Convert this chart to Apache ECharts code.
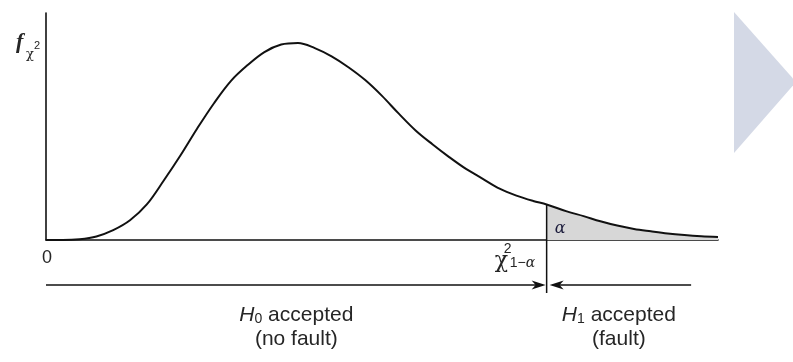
<!DOCTYPE html>
<html>
<head>
<meta charset="utf-8">
<script src="https://cdn.jsdelivr.net/npm/echarts@6/dist/echarts.min.js"></script>
<style>
  html, body { margin: 0; padding: 0; background: #ffffff; }
  #chart { width: 793px; height: 362px; }
</style>
</head>
<body>
<div id="chart"></div>
<script>
// Chi-square test statistic density (x = statistic, y = density)
const chiX = [0, 0.5, 1, 1.5, 2, 2.5, 3, 3.5, 4, 4.5, 5, 5.5, 6, 6.5, 7, 7.5, 8, 8.5, 9, 9.5,
              10, 10.5, 11, 11.5, 12, 12.5, 13, 13.5, 14, 14.5, 14.9, 15.5, 16, 16.5, 17, 17.5,
              18, 18.5, 19, 19.5, 20];
const density = [0, 0, 0.0004, 0.0018, 0.005, 0.010, 0.018, 0.030, 0.0428, 0.0565, 0.0693,
                 0.0805, 0.0886, 0.0952, 0.099, 0.0998, 0.0972, 0.093, 0.0875, 0.081,
                 0.073, 0.064, 0.0555, 0.0485, 0.042, 0.036, 0.031, 0.026, 0.0225, 0.0198,
                 0.018, 0.0145, 0.0121, 0.0095, 0.0073, 0.0056, 0.0044, 0.0033, 0.0025,
                 0.0019, 0.0015];

// Decision threshold and the extent of the two decision regions
const criticalValue = 14.9;
const regionStart = 0;
const faultRegionEnd = 19.2;

const axisMin = 0, axisMax = 20;
const densityMax = 0.115;

const curve = chiX.map((x, i) => [x, density[i]]);
const tail = curve.filter(p => p[0] >= criticalValue);
const criticalDensity = density[chiX.indexOf(criticalValue)];

const textColor = '#262626';
const baseFont = '"Liberation Sans", Arial, sans-serif';
const mathFont = '"DejaVu Serif", "Liberation Serif", serif';

const chart = echarts.init(document.getElementById('chart'), null, { renderer: 'canvas' });

chart.setOption({
  animation: false,
  backgroundColor: '#ffffff',
  grid: { left: 46, top: 13, width: 672, height: 227, containLabel: false },
  xAxis: {
    type: 'value', min: axisMin, max: axisMax,
    axisLine: { show: true, lineStyle: { color: '#111', width: 1.6 } },
    axisTick: { show: false }, axisLabel: { show: false }, splitLine: { show: false }
  },
  yAxis: {
    type: 'value', min: 0, max: densityMax,
    axisLine: { show: true, lineStyle: { color: '#111', width: 1.6 } },
    axisTick: { show: false }, axisLabel: { show: false }, splitLine: { show: false }
  },
  series: [
    {
      type: 'line', data: tail, smooth: 0.35,
      showSymbol: false, z: 1,
      lineStyle: { width: 0 },
      areaStyle: { color: '#d7d7d7', opacity: 1 }
    },
    {
      type: 'line', data: curve, smooth: 0.35,
      showSymbol: false, z: 3,
      lineStyle: { color: '#111', width: 2 }
    }
  ]
});

// Annotations placed through the chart's own coordinate conversion
const px = v => chart.convertToPixel({ gridIndex: 0 }, v);
const x0 = px([regionStart, 0])[0];
const axisY = px([0, 0])[1];
const critTop = px([criticalValue, criticalDensity]);
const xc = critTop[0];
const xEnd = px([faultRegionEnd, 0])[0];
const arrowY = 285;

function arrowHead(tipX, y, dir) {
  // dir = 1 points right, -1 points left
  return {
    type: 'polygon', z: 10,
    shape: { points: [[tipX, y], [tipX - dir * 14, y - 4.5], [tipX - dir * 10, y], [tipX - dir * 14, y + 4.5]] },
    style: { fill: '#111' }
  };
}

const graphics = [
  // decorative pointer on the right edge
  { type: 'polygon', z: 0, shape: { points: [[734, 12], [796, 82], [734, 153]] }, style: { fill: '#d4d9e6' } },
  // threshold marker
  { type: 'line', z: 5, shape: { x1: xc, y1: critTop[1], x2: xc, y2: 293 }, style: { stroke: '#111', lineWidth: 1.5 } },
  // decision region arrows
  { type: 'line', z: 5, shape: { x1: x0, y1: arrowY, x2: xc - 4, y2: arrowY }, style: { stroke: '#111', lineWidth: 1.6 } },
  arrowHead(xc - 1, arrowY, 1),
  { type: 'line', z: 5, shape: { x1: xc + 6, y1: arrowY, x2: xEnd, y2: arrowY }, style: { stroke: '#111', lineWidth: 1.6 } },
  arrowHead(xc + 3, arrowY, -1),
  // origin label
  { type: 'text', z: 10, style: { text: '0', x: x0 + 1, y: axisY + 18, align: 'center', verticalAlign: 'middle',
      font: '18px ' + baseFont, fill: textColor } },
  // alpha in the shaded tail
  { type: 'text', z: 10, style: { text: 'α', x: xc + 8, y: axisY - 11, align: 'left', verticalAlign: 'middle',
      font: 'italic 16px ' + mathFont, fill: '#1c1c3c' } },
  // critical value label
  { type: 'text', z: 10, style: { text: 'χ', x: xc - 52, y: axisY + 21, align: 'left', verticalAlign: 'middle',
      font: '22px ' + mathFont, fill: textColor } },
  { type: 'text', z: 10, style: { text: '2', x: xc - 43, y: axisY + 9, align: 'left', verticalAlign: 'middle',
      font: '14px ' + baseFont, fill: textColor } },
  { type: 'text', z: 10, style: { text: '1−', x: xc - 37, y: axisY + 23, align: 'left', verticalAlign: 'middle',
      font: '14px ' + baseFont, fill: textColor } },
  { type: 'text', z: 10, style: { text: 'α', x: xc - 21, y: axisY + 23, align: 'left', verticalAlign: 'middle',
      font: 'italic 14px ' + mathFont, fill: textColor } },
  // y axis label f with subscript chi squared
  { type: 'text', z: 10, style: { text: 'f', x: 16, y: 42, align: 'left', verticalAlign: 'middle',
      font: 'italic bold 22px "Liberation Serif", serif', fill: textColor } },
  { type: 'text', z: 10, style: { text: 'χ', x: 26, y: 55, align: 'left', verticalAlign: 'middle',
      font: '13px ' + mathFont, fill: textColor } },
  { type: 'text', z: 10, style: { text: '2', x: 34, y: 46, align: 'left', verticalAlign: 'middle',
      font: '11px ' + baseFont, fill: textColor } }
];

function regionLabel(cx, hyp, idx, note) {
  return [
    { type: 'text', z: 10, style: {
        text: '{h|' + hyp + '}{s|' + idx + '}{t| accepted}',
        x: cx, y: 315, align: 'center', verticalAlign: 'middle',
        rich: {
          h: { font: 'italic 21px ' + baseFont, fill: textColor, lineHeight: 22, verticalAlign: 'bottom' },
          s: { font: '14px ' + baseFont, fill: textColor, lineHeight: 10, verticalAlign: 'bottom' },
          t: { font: '21px ' + baseFont, fill: textColor, lineHeight: 22, verticalAlign: 'bottom' }
        } } },
    { type: 'text', z: 10, style: { text: note, x: cx, y: 339, align: 'center', verticalAlign: 'middle',
        font: '21px ' + baseFont, fill: textColor } }
  ];
}

graphics.push(...regionLabel((x0 + xc) / 2, 'H', '0', '(no fault)'));
graphics.push(...regionLabel((xc + xEnd) / 2, 'H', '1', '(fault)'));

chart.setOption({ graphic: graphics });
</script>
</body>
</html>
